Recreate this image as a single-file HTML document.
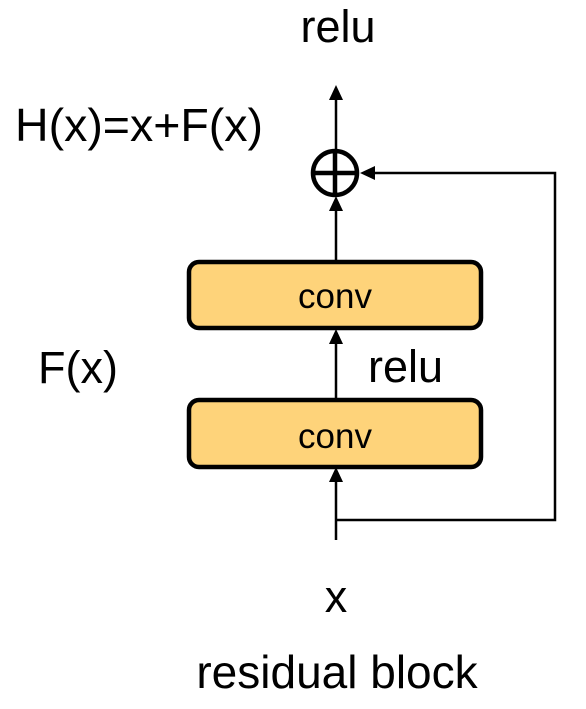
<!DOCTYPE html>
<html><head><meta charset="utf-8"><style>
html,body{margin:0;padding:0;background:#fff;}
svg{display:block;font-family:"Liberation Sans",Arial,sans-serif;}
</style></head><body>
<svg width="586" height="709" viewBox="0 0 586 709">
<text x="338" y="42" font-size="45" text-anchor="middle">relu</text>
<text x="15" y="141" font-size="46.5">H(x)=x+F(x)</text>
<text x="38" y="383" font-size="45">F(x)</text>
<text x="368" y="382" font-size="45">relu</text>
<text x="336" y="612" font-size="45" text-anchor="middle">x</text>
<text x="337" y="688" font-size="46" text-anchor="middle">residual block</text>

<g stroke="#000" stroke-width="2.5" fill="none">
<line x1="336" y1="150" x2="336" y2="90"/>
<path d="M336,85 l-7,15 h14 z" fill="#000" stroke="none"/>
<line x1="336" y1="262" x2="336" y2="200"/>
<path d="M336,196 l-7,15 h14 z" fill="#000" stroke="none"/>
<line x1="336" y1="398" x2="336" y2="334"/>
<path d="M336,329 l-7,15 h14 z" fill="#000" stroke="none"/>
<line x1="336" y1="540" x2="336" y2="472"/>
<path d="M336,467 l-7,15 h14 z" fill="#000" stroke="none"/>
<polyline points="336,520 555,520 555,173 364,173"/>
<path d="M360,173 l15,-7 v14 z" fill="#000" stroke="none"/>
</g>
<g>
<circle cx="335" cy="173" r="22" fill="#fff" stroke="#000" stroke-width="4.5"/>
<line x1="313" y1="173" x2="357" y2="173" stroke="#000" stroke-width="4.5"/>
<line x1="335" y1="151" x2="335" y2="195" stroke="#000" stroke-width="4.5"/>
</g>
<g>
<rect x="189" y="262" width="292" height="66" rx="10" fill="#fed37a" stroke="#000" stroke-width="4.5"/>
<text x="335" y="308" font-size="35" text-anchor="middle">conv</text>
</g>
<g>
<rect x="189" y="400" width="292" height="67" rx="10" fill="#fed37a" stroke="#000" stroke-width="4.5"/>
<text x="335" y="448" font-size="35" text-anchor="middle">conv</text>
</g>
</svg>
</body></html>
